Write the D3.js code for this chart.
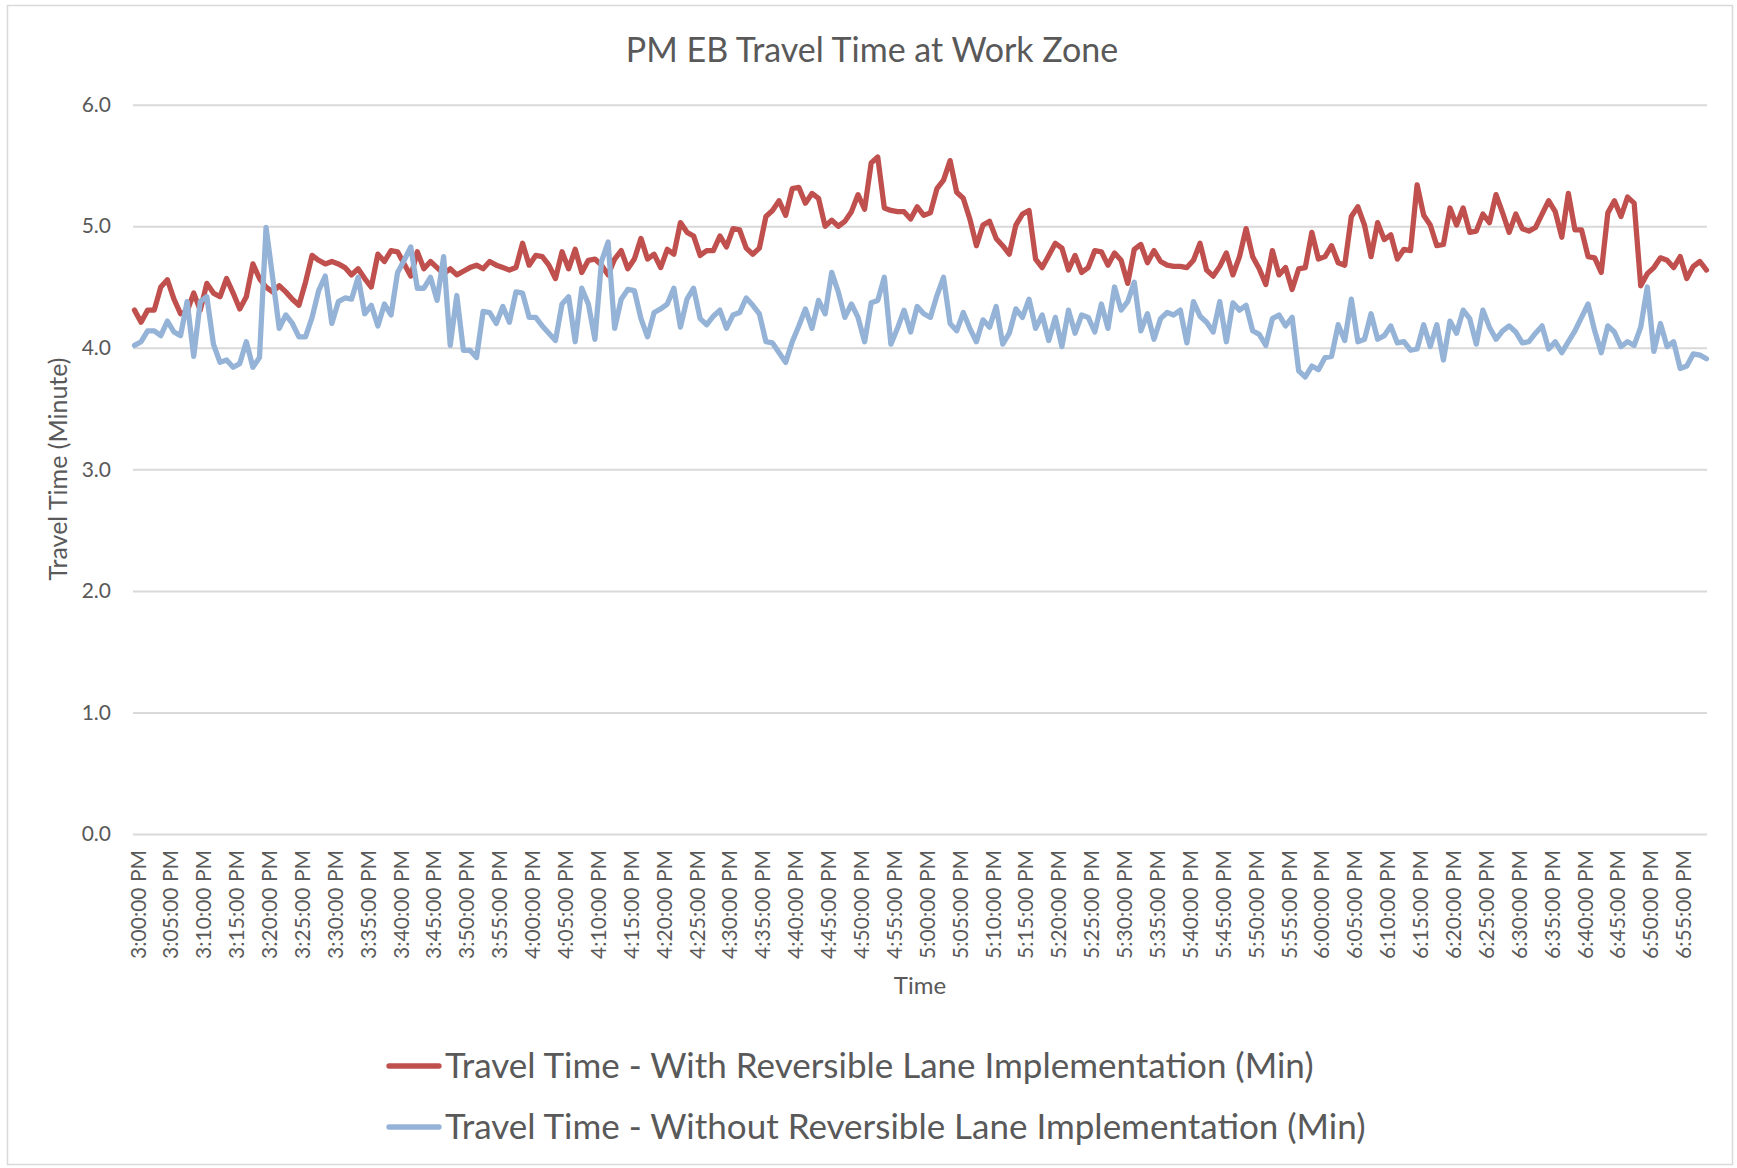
<!DOCTYPE html>
<html>
<head>
<meta charset="utf-8">
<script src="https://cdn.jsdelivr.net/npm/d3@7"></script>
<style>
  body { margin: 0; background: #ffffff; }
  svg { display: block; }
  text { font-family: Lato, "Open Sans", sans-serif; fill: #595959; }
</style>
</head>
<body>
<svg id="chart" width="1737" height="1168"></svg>
<script>
// ---- chart text ----
const chartTitle = "PM EB Travel Time at Work Zone";
const yAxisTitle = "Travel Time (Minute)";
const xAxisTitle = "Time";
const seriesNames = [
  "Travel Time - With Reversible Lane Implementation (Min)",
  "Travel Time - Without Reversible Lane Implementation (Min)"
];
const seriesColors = ["#C0504D", "#95B3D7"];

// ---- axis ticks ----
const yTicks = [0, 1, 2, 3, 4, 5, 6];
const tickLabels = [
  "3:00:00 PM", "3:05:00 PM", "3:10:00 PM", "3:15:00 PM", "3:20:00 PM", "3:25:00 PM",
  "3:30:00 PM", "3:35:00 PM", "3:40:00 PM", "3:45:00 PM", "3:50:00 PM", "3:55:00 PM",
  "4:00:00 PM", "4:05:00 PM", "4:10:00 PM", "4:15:00 PM", "4:20:00 PM", "4:25:00 PM",
  "4:30:00 PM", "4:35:00 PM", "4:40:00 PM", "4:45:00 PM", "4:50:00 PM", "4:55:00 PM",
  "5:00:00 PM", "5:05:00 PM", "5:10:00 PM", "5:15:00 PM", "5:20:00 PM", "5:25:00 PM",
  "5:30:00 PM", "5:35:00 PM", "5:40:00 PM", "5:45:00 PM", "5:50:00 PM", "5:55:00 PM",
  "6:00:00 PM", "6:05:00 PM", "6:10:00 PM", "6:15:00 PM", "6:20:00 PM", "6:25:00 PM",
  "6:30:00 PM", "6:35:00 PM", "6:40:00 PM", "6:45:00 PM", "6:50:00 PM", "6:55:00 PM"
];

// ---- minute-by-minute travel times (minutes), 3:00 PM to 6:59 PM ----
const withLane = [
  4.31, 4.21, 4.31, 4.31, 4.50, 4.56, 4.40, 4.28, 4.30, 4.45,
  4.31, 4.53, 4.45, 4.42, 4.57, 4.45, 4.32, 4.42, 4.69, 4.57,
  4.50, 4.46, 4.51, 4.46, 4.40, 4.35, 4.54, 4.76, 4.72, 4.69,
  4.71, 4.69, 4.66, 4.60, 4.65, 4.57, 4.50, 4.77, 4.71, 4.80,
  4.79, 4.69, 4.59, 4.79, 4.65, 4.71, 4.66, 4.61, 4.65, 4.60,
  4.63, 4.66, 4.68, 4.65, 4.71, 4.68, 4.66, 4.64, 4.66, 4.86,
  4.68, 4.76, 4.75, 4.68, 4.57, 4.79, 4.65, 4.81, 4.62, 4.72,
  4.73, 4.68, 4.60, 4.73, 4.80, 4.65, 4.73, 4.90, 4.73, 4.77,
  4.66, 4.81, 4.77, 5.03, 4.95, 4.92, 4.76, 4.80, 4.80, 4.92,
  4.83, 4.98, 4.97, 4.82, 4.77, 4.82, 5.08, 5.13, 5.21, 5.09,
  5.31, 5.32, 5.19, 5.27, 5.23, 5.00, 5.05, 5.00, 5.04, 5.12,
  5.26, 5.14, 5.52, 5.57, 5.15, 5.13, 5.12, 5.12, 5.06, 5.16,
  5.09, 5.11, 5.31, 5.38, 5.54, 5.28, 5.23, 5.06, 4.84, 5.01,
  5.04, 4.90, 4.84, 4.77, 5.01, 5.10, 5.13, 4.73, 4.66, 4.76,
  4.86, 4.82, 4.64, 4.76, 4.62, 4.66, 4.80, 4.79, 4.68, 4.78,
  4.72, 4.53, 4.81, 4.85, 4.70, 4.80, 4.71, 4.68, 4.67, 4.67,
  4.66, 4.72, 4.86, 4.64, 4.59, 4.67, 4.78, 4.60, 4.75, 4.98,
  4.75, 4.65, 4.52, 4.80, 4.60, 4.66, 4.48, 4.65, 4.66, 4.95,
  4.73, 4.75, 4.84, 4.70, 4.68, 5.08, 5.16, 5.01, 4.75, 5.03,
  4.89, 4.93, 4.73, 4.81, 4.80, 5.34, 5.09, 5.01, 4.84, 4.85,
  5.15, 5.01, 5.15, 4.95, 4.96, 5.10, 5.03, 5.26, 5.11, 4.95,
  5.10, 4.98, 4.96, 4.99, 5.10, 5.21, 5.12, 4.91, 5.27, 4.97,
  4.97, 4.75, 4.74, 4.62, 5.11, 5.21, 5.08, 5.24, 5.19, 4.51,
  4.61, 4.66, 4.74, 4.72, 4.66, 4.75, 4.57, 4.67, 4.71, 4.64
];
const withoutLane = [
  4.02, 4.05, 4.14, 4.14, 4.10, 4.22, 4.13, 4.10, 4.38, 3.93,
  4.38, 4.42, 4.03, 3.88, 3.90, 3.84, 3.87, 4.05, 3.84, 3.92,
  4.99, 4.58, 4.16, 4.27, 4.20, 4.09, 4.09, 4.25, 4.47, 4.59,
  4.20, 4.38, 4.41, 4.40, 4.58, 4.28, 4.35, 4.18, 4.36, 4.27,
  4.62, 4.72, 4.83, 4.49, 4.49, 4.58, 4.39, 4.75, 4.02, 4.43,
  3.98, 3.98, 3.92, 4.30, 4.29, 4.20, 4.34, 4.21, 4.46, 4.45,
  4.25, 4.25, 4.18, 4.12, 4.06, 4.36, 4.42, 4.05, 4.49, 4.36,
  4.07, 4.71, 4.87, 4.16, 4.40, 4.48, 4.47, 4.24, 4.09, 4.29,
  4.32, 4.36, 4.49, 4.17, 4.40, 4.49, 4.24, 4.19, 4.26, 4.31,
  4.16, 4.27, 4.29, 4.41, 4.35, 4.28, 4.05, 4.04, 3.96, 3.88,
  4.05, 4.18, 4.32, 4.16, 4.39, 4.28, 4.62, 4.46, 4.25, 4.36,
  4.25, 4.05, 4.37, 4.39, 4.58, 4.03, 4.16, 4.31, 4.13, 4.34,
  4.28, 4.25, 4.43, 4.58, 4.20, 4.14, 4.29, 4.16, 4.05, 4.23,
  4.17, 4.34, 4.03, 4.12, 4.32, 4.25, 4.40, 4.16, 4.27, 4.06,
  4.25, 4.01, 4.31, 4.12, 4.27, 4.25, 4.13, 4.36, 4.16, 4.50,
  4.31, 4.38, 4.54, 4.14, 4.28, 4.07, 4.24, 4.29, 4.27, 4.31,
  4.04, 4.38, 4.26, 4.21, 4.13, 4.38, 4.05, 4.37, 4.31, 4.35,
  4.14, 4.11, 4.02, 4.24, 4.27, 4.18, 4.25, 3.81, 3.76, 3.85,
  3.82, 3.92, 3.93, 4.19, 4.06, 4.40, 4.05, 4.07, 4.28, 4.07,
  4.10, 4.18, 4.04, 4.05, 3.98, 3.99, 4.19, 4.01, 4.19, 3.90,
  4.22, 4.12, 4.31, 4.24, 4.03, 4.31, 4.17, 4.07, 4.14, 4.18,
  4.13, 4.04, 4.05, 4.12, 4.18, 3.99, 4.05, 3.96, 4.05, 4.14,
  4.25, 4.36, 4.14, 3.96, 4.18, 4.13, 4.01, 4.05, 4.02, 4.17,
  4.50, 3.97, 4.20, 4.01, 4.05, 3.83, 3.85, 3.95, 3.94, 3.91
];

// one category per minute, labelled like the axis ticks
const categories = withLane.map((_, m) =>
  `${3 + Math.floor(m / 60)}:${String(m % 60).padStart(2, "0")}:00 PM`);

// ---- layout ----
const plot = { left: 134, right: 1707, top: 104.7, bottom: 834 };

const svg = d3.select("#chart");

// outer chart frame
svg.append("rect")
  .attr("x", 7.5).attr("y", 5.5)
  .attr("width", 1725).attr("height", 1159)
  .attr("fill", "#ffffff")
  .attr("stroke", "#d9d9d9").attr("stroke-width", 1.5);

const x = d3.scalePoint().domain(categories).range([plot.left + 0.5, plot.right - 0.5]);
const y = d3.scaleLinear().domain([0, 6]).range([plot.bottom, plot.top]);

// horizontal gridlines + value labels
const yAxis = svg.append("g")
  .attr("transform", `translate(${plot.left - 1},0)`)
  .call(d3.axisLeft(y)
    .tickValues(yTicks)
    .tickSize(-(plot.right - plot.left + 1))
    .tickPadding(22)
    .tickFormat(d3.format(".1f")));
yAxis.select(".domain").remove();
yAxis.selectAll(".tick line").attr("stroke", "#d9d9d9").attr("stroke-width", 2);
yAxis.selectAll(".tick text")
  .style("font-family", "Lato, 'Open Sans', sans-serif")
  .style("font-size", "21px").attr("fill", "#595959");

// category axis with vertical time labels
const xAxis = svg.append("g")
  .attr("transform", `translate(0,${plot.bottom})`)
  .call(d3.axisBottom(x).tickValues(tickLabels).tickSize(0));
xAxis.select(".domain").remove();
xAxis.selectAll(".tick text")
  .style("font-family", "Lato, 'Open Sans', sans-serif")
  .style("font-size", "21px").attr("fill", "#595959")
  .attr("text-anchor", "end")
  .attr("transform", "rotate(-90)")
  .attr("x", -16).attr("y", 0).attr("dy", "0.5em");

// series lines
const line = d3.line()
  .x((d, i) => x(categories[i]))
  .y(d => y(d));

[withLane, withoutLane].forEach((vals, k) => {
  svg.append("path")
    .datum(vals)
    .attr("fill", "none")
    .attr("stroke", seriesColors[k])
    .attr("stroke-width", 5.3)
    .attr("stroke-linejoin", "round")
    .attr("stroke-linecap", "round")
    .attr("d", line);
});

// title
svg.append("text")
  .attr("x", 872).attr("y", 62)
  .attr("text-anchor", "middle")
  .style("font-size", "34px")
  .text(chartTitle);

// axis titles
svg.append("text")
  .attr("transform", "translate(58,469) rotate(-90)")
  .attr("text-anchor", "middle")
  .attr("dy", "0.35em")
  .style("font-size", "25px")
  .text(yAxisTitle);

svg.append("text")
  .attr("x", 920).attr("y", 994)
  .attr("text-anchor", "middle")
  .style("font-size", "24px")
  .text(xAxisTitle);

// legend
const legendY = [1066, 1127];
seriesNames.forEach((name, k) => {
  const g = svg.append("g");
  g.append("line")
    .attr("x1", 389).attr("x2", 439)
    .attr("y1", legendY[k]).attr("y2", legendY[k])
    .attr("stroke", seriesColors[k])
    .attr("stroke-width", 5.3)
    .attr("stroke-linecap", "round");
  g.append("text")
    .attr("x", 445).attr("y", legendY[k] + 12)
    .style("font-size", "35px")
    .text(name);
});
</script>
</body>
</html>
